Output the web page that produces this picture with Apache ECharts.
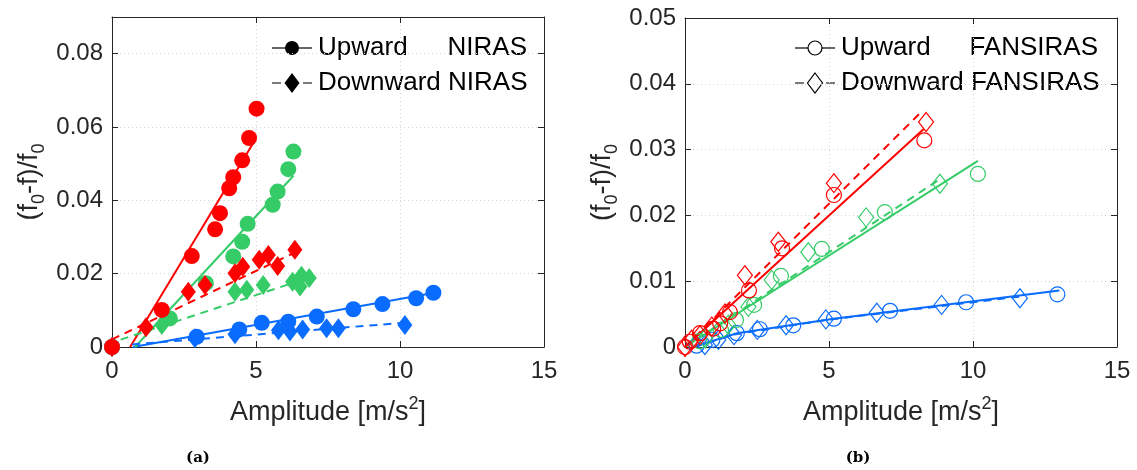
<!DOCTYPE html>
<html><head><meta charset="utf-8">
<script src="https://cdn.jsdelivr.net/npm/echarts@6/dist/echarts.min.js"></script>
<style>html,body{margin:0;padding:0;background:#fff}#c{width:1137px;height:470px}</style>
</head><body><div id="c"></div>
<script>
// ---------- Panel (a): NIRAS (filled markers) ----------
const nirasUpRed = [[0,0],[1.73,0.0101],[2.77,0.0248],[3.58,0.0321],[3.75,0.0365],[4.07,0.0433],[4.21,0.0463],[4.52,0.0509],[4.76,0.0570],[5.02,0.0650]];
const nirasUpGreen = [[0,0],[2.01,0.0078],[3.26,0.0174],[4.21,0.0247],[4.52,0.0287],[4.71,0.0336],[5.58,0.0388],[5.75,0.0424],[6.12,0.0485],[6.30,0.0533]];
const nirasUpBlue = [[0,0],[2.94,0.0028],[4.42,0.0048],[5.20,0.0066],[6.12,0.0069],[7.11,0.0083],[8.38,0.0103],[9.39,0.0117],[10.56,0.0133],[11.16,0.0148]];
const nirasDownRed = [[0,0],[1.18,0.0054],[2.65,0.0151],[3.23,0.0169],[4.27,0.0201],[4.54,0.0219],[5.11,0.0238],[5.43,0.0251],[5.75,0.0221],[6.35,0.0265]];
const nirasDownGreen = [[0,0],[1.73,0.0060],[4.27,0.0151],[4.68,0.0156],[5.25,0.0169],[6.27,0.0178],[6.53,0.0165],[6.58,0.0194],[6.85,0.0188]];
const nirasDownBlue = [[0,0],[2.88,0.0024],[4.27,0.0035],[5.78,0.0046],[6.18,0.0042],[6.62,0.0048],[7.45,0.0051],[7.86,0.0051],[10.17,0.0060]];
const nirasUpRedFit = [[0.63,0],[4.93,0.056]];
const nirasUpGreenFit = [[0.80,0],[6.30,0.0467]];
const nirasUpBlueFit = [[0.73,0],[11.15,0.0147]];
const nirasDownRedFit = [[0,0.0021],[6.41,0.026]];
const nirasDownGreenFit = [[0.3,0.002],[6.8,0.0188]];
const nirasDownBlueFit = [[0.7,0.0007],[10.12,0.0066]];

// ---------- Panel (b): FANSIRAS (open markers) ----------
const fanUpRed = [[0,0],[0.17,0.0008],[0.52,0.0021],[0.98,0.0028],[1.22,0.0036],[1.56,0.0053],[2.22,0.0086],[3.37,0.0150],[5.17,0.0231],[8.31,0.0314]];
const fanDownRed = [[0,0],[0.23,0.0011],[0.52,0.0018],[0.93,0.0031],[1.39,0.0051],[2.08,0.0109],[3.24,0.0160],[5.17,0.0249],[8.37,0.0342]];
const fanUpGreen = [[0.5,0.0009],[1.25,0.0026],[1.77,0.0041],[2.40,0.0064],[3.33,0.0108],[4.75,0.0149],[6.94,0.0205],[10.17,0.0263]];
const fanDownGreen = [[0.7,0.0013],[1.5,0.0034],[2.20,0.0061],[3.01,0.0102],[4.28,0.0144],[6.29,0.0197],[8.85,0.0248]];
const fanUpBlue = [[0.4,0.0002],[0.95,0.0011],[1.80,0.0021],[2.60,0.0027],[3.76,0.0033],[5.17,0.0043],[7.12,0.0055],[9.76,0.0068],[12.93,0.0080]];
const fanDownBlue = [[0.69,0.0003],[1.16,0.0011],[1.70,0.0018],[2.51,0.0026],[3.51,0.0033],[4.89,0.0042],[6.66,0.0052],[8.91,0.0064],[11.63,0.0074]];
const fanUpRedFit = [[0,0],[8.28,0.0331]];
const fanDownRedFit = [[0,0],[8.22,0.0358]];
const fanUpGreenFit = [[0,0],[10.17,0.0283]];
const fanDownGreenFit = [[0,0],[8.85,0.0255]];
const fanUpBlueFit = [[0.3,0],[1.8,0.0021],[5.17,0.0043],[13.0,0.0086]];
const fanDownBlueFit = [[0.3,0],[1.7,0.0019],[4.89,0.0041],[11.7,0.0077]];

const xRange = [0, 15];
const yRangeA = [0, 0.09];
const yRangeB = [0, 0.05];
const legendA = ['Upward', 'NIRAS', 'Downward NIRAS'];
const legendB = ['Upward', 'FANSIRAS', 'Downward FANSIRAS'];
const captions = ['(a)', '(b)'];

const RED = '#ff0000', GREEN = '#35cc68', BLUE = '#0a6cff';
const AX = '#262626';
const FONT = 'Liberation Sans, Arial, sans-serif';

const chart = echarts.init(document.getElementById('c'), null, {renderer: 'canvas'});

const nameRich = {
  n: {fontSize: 27, fontFamily: FONT, color: AX, lineHeight: 36, verticalAlign: 'middle'},
  s: {fontSize: 18, fontFamily: FONT, color: AX, lineHeight: 18, verticalAlign: 'bottom'},
  p: {fontSize: 18, fontFamily: FONT, color: AX, lineHeight: 18, verticalAlign: 'top'}
};

function xAxes(gi) {
  return [{
    type: 'value', gridIndex: gi, min: xRange[0], max: xRange[1], interval: 5, position: 'bottom',
    name: '{n|Amplitude [m/s}{p|2}{n|]}', nameLocation: 'middle', nameGap: 48,
    nameTextStyle: {rich: nameRich},
    axisLine: {show: true, onZero: false, lineStyle: {color: AX, width: 1}},
    axisTick: {show: true, inside: true, length: 6, lineStyle: {color: AX}},
    axisLabel: {fontSize: 24, fontFamily: FONT, color: AX, margin: 12},
    splitLine: {show: true, lineStyle: {color: '#d4d4d4', type: [1, 3], width: 1}}
  }, {
    type: 'value', gridIndex: gi, min: xRange[0], max: xRange[1], interval: 5, position: 'top',
    axisLine: {show: true, onZero: false, lineStyle: {color: AX, width: 1}},
    axisTick: {show: true, inside: true, length: 6, lineStyle: {color: AX}},
    axisLabel: {show: false}, splitLine: {show: false}
  }];
}
function yAxes(gi, range, interval) {
  return [{
    type: 'value', gridIndex: gi, min: range[0], max: range[1], interval: interval, position: 'left',
    name: '{n|(f}{s|0}{n|-f)/f}{s|0}', nameLocation: 'middle', nameGap: 64, nameRotate: 90,
    nameTextStyle: {rich: nameRich},
    axisLine: {show: true, onZero: false, lineStyle: {color: AX, width: 1}},
    axisTick: {show: true, inside: true, length: 6, lineStyle: {color: AX}},
    axisLabel: {fontSize: 24, fontFamily: FONT, color: AX, margin: 9, showMaxLabel: range[1] === 0.05,
      formatter: v => (Math.abs(Math.round(v / interval) * interval - v) < 1e-9 ? String(+v.toFixed(4)) : '')},
    splitLine: {show: true, lineStyle: {color: '#d4d4d4', type: [1, 3], width: 1}}
  }, {
    type: 'value', gridIndex: gi, min: range[0], max: range[1], interval: interval, position: 'right',
    axisLine: {show: true, onZero: false, lineStyle: {color: AX, width: 1}},
    axisTick: {show: true, inside: true, length: 6, lineStyle: {color: AX}},
    axisLabel: {show: false}, splitLine: {show: false}
  }];
}

function fit(data, color, dashed, xi, yi) {
  return {type: 'line', data: data, xAxisIndex: xi, yAxisIndex: yi, symbol: 'none', silent: true,
    lineStyle: {color: color, width: 2, type: dashed ? [8, 6] : 'solid'}, z: 2, animation: false};
}
function pts(data, color, shape, filled, xi, yi) {
  const size = shape === 'circle' ? (filled ? 16 : 15) : (filled ? [15, 20] : [15, 19]);
  return {type: 'scatter', data: data, xAxisIndex: xi, yAxisIndex: yi, symbol: shape, symbolSize: size,
    itemStyle: filled ? {color: color, opacity: 1} : {color: 'rgba(0,0,0,0)', borderColor: color, borderWidth: 1.2, opacity: 1},
    z: 3, animation: false};
}

const series = [
  fit(nirasUpBlueFit, BLUE, false, 0, 0), fit(nirasUpGreenFit, GREEN, false, 0, 0), fit(nirasUpRedFit, RED, false, 0, 0),
  fit(nirasDownBlueFit, BLUE, true, 0, 0), fit(nirasDownGreenFit, GREEN, true, 0, 0), fit(nirasDownRedFit, RED, true, 0, 0),
  pts(nirasDownBlue, BLUE, 'diamond', true, 0, 0), pts(nirasUpBlue, BLUE, 'circle', true, 0, 0),
  pts(nirasDownGreen, GREEN, 'diamond', true, 0, 0), pts(nirasUpGreen, GREEN, 'circle', true, 0, 0),
  pts(nirasDownRed, RED, 'diamond', true, 0, 0), pts(nirasUpRed, RED, 'circle', true, 0, 0),
  fit(fanUpBlueFit, BLUE, false, 2, 2), fit(fanUpGreenFit, GREEN, false, 2, 2), fit(fanUpRedFit, RED, false, 2, 2),
  fit(fanDownBlueFit, BLUE, true, 2, 2), fit(fanDownGreenFit, GREEN, true, 2, 2), fit(fanDownRedFit, RED, true, 2, 2),
  pts(fanUpBlue, BLUE, 'circle', false, 2, 2), pts(fanDownBlue, BLUE, 'diamond', false, 2, 2),
  pts(fanUpGreen, GREEN, 'circle', false, 2, 2), pts(fanDownGreen, GREEN, 'diamond', false, 2, 2),
  pts(fanUpRed, RED, 'circle', false, 2, 2), pts(fanDownRed, RED, 'diamond', false, 2, 2)
];

function legendGraphics(x0, names, filled) {
  const c = '#000';
  const tStyle = {fontSize: 26, fontFamily: FONT, fill: '#000', verticalAlign: 'middle'};
  const y1 = 48, y2 = 83, xm = x0 + 20, xt = x0 + 46, xr = x0 + (filled ? 255 : 303);
  const sym = filled ? {fill: c} : {fill: 'none', stroke: c, lineWidth: 1.2};
  return [
    {type: 'line', shape: {x1: x0, y1: y1, x2: x0 + 40, y2: y1}, style: {stroke: '#333', lineWidth: 1.3}},
    {type: 'circle', shape: {cx: xm, cy: y1, r: 7}, style: Object.assign({}, filled ? {fill: c} : {fill: '#fff', stroke: c, lineWidth: 1.2})},
    {type: 'text', x: xt, y: y1, style: Object.assign({text: names[0]}, tStyle)},
    {type: 'text', x: xr, y: y1, style: Object.assign({text: names[1], align: 'right'}, tStyle)},
    {type: 'line', shape: {x1: x0, y1: y2, x2: x0 + 9, y2: y2}, style: {stroke: '#333', lineWidth: 1.3}},
    {type: 'line', shape: {x1: x0 + 31, y1: y2, x2: x0 + 40, y2: y2}, style: {stroke: '#333', lineWidth: 1.3}},
    {type: 'polygon', shape: {points: [[xm, y2 - 10], [xm + 7.5, y2], [xm, y2 + 10], [xm - 7.5, y2]]}, style: sym},
    {type: 'text', x: xt, y: y2, style: Object.assign({text: names[2]}, tStyle)}
  ];
}

const capStyle = {fontSize: 15, fontWeight: 'bold', fontFamily: 'DejaVu Serif, Liberation Serif, serif', fill: '#000', align: 'center', verticalAlign: 'middle'};

chart.setOption({
  animation: false,
  backgroundColor: '#fff',
  grid: [
    {left: 112, top: 17, width: 432, height: 330, containLabel: false},
    {left: 685, top: 18, width: 432, height: 329, containLabel: false}
  ],
  xAxis: xAxes(0).concat(xAxes(1)),
  yAxis: yAxes(0, yRangeA, 0.02).concat(yAxes(1, yRangeB, 0.01)),
  series: series,
  graphic: legendGraphics(272, legendA, true).concat(legendGraphics(795, legendB, false)).concat([
    {type: 'text', x: 198, y: 458, style: Object.assign({text: captions[0]}, capStyle)},
    {type: 'text', x: 858, y: 458, style: Object.assign({text: captions[1]}, capStyle)}
  ])
});
</script>
</body></html>
